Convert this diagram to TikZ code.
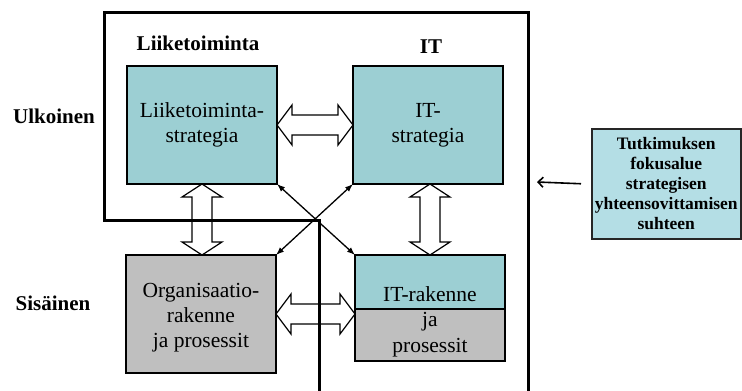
\documentclass[tikz,border=0pt]{standalone}
\usepackage{fontspec}
\setmainfont{Liberation Serif}
\usetikzlibrary{calc,arrows.meta}

\definecolor{tealfill}{RGB}{156,207,211}
\definecolor{lightteal}{RGB}{180,222,229}
\definecolor{greyfill}{RGB}{191,191,191}

\tikzset{
  box/.style={draw=black, line width=2pt, minimum width=150pt, minimum height=118pt,
    anchor=north west, inner sep=0pt, outer sep=0pt},
  boxtext/.style={font=\fontsize{21.5}{25}\selectfont, align=center, inner sep=0pt},
  heading/.style={font=\fontsize{21}{25}\selectfont\bfseries, anchor=base, inner sep=0pt},
  frame/.style={line width=3pt, line join=miter},
  blockarrow/.style={draw=black, fill=white, line width=1.2pt, line join=miter},
  thinarrow/.style={line width=1.3pt, {Latex[length=8pt,width=6pt]}-{Latex[length=8pt,width=6pt]}},
  focusbox/.style={draw=black!85, line width=1.5pt, fill=lightteal, minimum width=149pt,
    minimum height=110pt, anchor=north west, inner sep=1pt, align=center,
    font=\fontsize{17.5}{20}\selectfont\bfseries},
}

% horizontal two-headed block arrow: #1 left tip, #2 right tip
\newcommand\hdblock[2]{%
  \draw[blockarrow] (#1) -- ++(15,-20) -- ++(0,10) -- ($(#2)+(-15,-10)$) -- ++(0,-10)
    -- (#2) -- ++(-15,20) -- ++(0,-10) -- ($(#1)+(15,10)$) -- ++(0,10) -- cycle;}
% vertical two-headed block arrow: #1 top tip, #2 bottom tip
\newcommand\vdblock[2]{%
  \draw[blockarrow] (#1) -- ++(20,13) -- ++(-10,0) -- ($(#2)+(10,-13)$) -- ++(10,0)
    -- (#2) -- ++(-20,-13) -- ++(10,0) -- ($(#1)+(-10,13)$) -- ++(-10,0) -- cycle;}

\begin{document}
\begin{tikzpicture}[x=1pt,y=-1pt]
\useasboundingbox (0,0) rectangle (742,391);

% the four domains
\node[box, fill=tealfill, boxtext] (ls) at (127,66) {Liiketoiminta-\\strategia};
\node[box, fill=tealfill, boxtext] (is) at (353,66) {IT-\\strategia};
\node[box, fill=greyfill] (org) at (126,255) {};
\node[boxtext] (orgT) at ([yshift=-4pt]org.center) {Organisaatio-\\rakenne\\ja prosessit};
\node[box, fill=greyfill, minimum height=106pt] (itr) at (355,255) {};
\node[box, fill=tealfill, minimum height=54pt] (itrTop) at (355,255) {};
\node[boxtext, font=\fontsize{21.5}{25.5}\selectfont] (itrT) at ([yshift=-13.5pt]itr.center)
  {IT-rakenne\\ja\\prosessit};

% column and row headings
\node[heading] (hL) at (198,50) {Liiketoiminta};
\node[heading] (hIT) at (431,53) {IT};
\node[heading] (hU) at (54,123) {Ulkoinen};
\node[heading] (hS) at (53,310) {Sisäinen};

% block arrows between neighbouring domains
\coordinate (orgR) at (org.east -| itr.west);
\coordinate (lsB) at (ls.south |- org.north);
\coordinate (isT) at (itr.north |- is.south);
\hdblock{ls.east}{is.west}
\hdblock{org.east}{orgR}
\vdblock{ls.south}{lsB}
\vdblock{isT}{itr.north}

% cross links
\draw[thinarrow] (ls.south east) -- (itr.north west);
\draw[thinarrow] (is.south west) -- (org.north east);

% focus note
\node[focusbox] (focus) at (591,128)
  {Tutkimuksen\\fokusalue\\strategisen\\yhteensovittamisen\\suhteen};
\coordinate (focusTip) at (537,182);
\draw[line width=1.6pt, -{Straight Barb[length=5pt,width=10pt]}]
  ([xshift=-10pt]focus.west) -- (focusTip);

% outline of the focus area
\draw[frame] (319,391) -- (319,220) -- (104,220) -- (104,12) -- (528,12) -- (528,391);
\end{tikzpicture}
\end{document}
